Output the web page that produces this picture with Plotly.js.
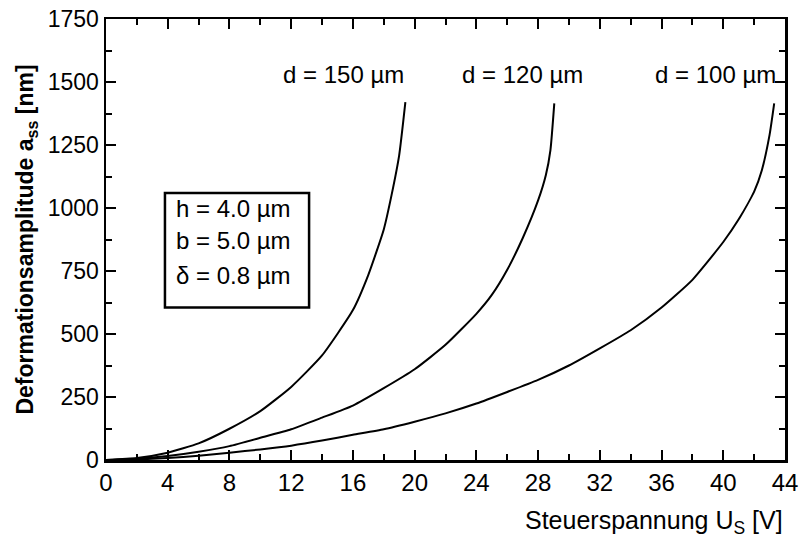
<!DOCTYPE html>
<html>
<head>
<meta charset="utf-8">
<script src="https://cdn.plot.ly/plotly-3.0.1.min.js"></script>
<style>html,body{margin:0;padding:0;background:#fff;}#chart{width:800px;height:539px;}</style>
</head>
<body>
<div id="chart"></div>
<script>
// Curve d = 150 µm
const x150 = [0, 2, 4, 6, 8, 10, 12, 14, 16, 17, 18, 18.5, 19, 19.4];
const y150 = [0, 8, 29, 66, 124, 194, 290, 415, 595, 735, 915, 1050, 1210, 1420];
// Curve d = 120 µm
const x120 = [0, 2, 4, 6, 8, 10, 12, 14, 16, 18, 20, 22, 24, 25, 26, 27, 28, 28.5, 28.8, 29.05];
const y120 = [0, 5, 16, 33, 55, 88, 122, 168, 216, 285, 360, 457, 580, 655, 755, 880, 1030, 1130, 1230, 1415];
// Curve d = 100 µm
const x100 = [0, 2, 4, 6, 8, 10, 12, 14, 16, 18, 20, 22, 24, 26, 28, 30, 32, 34, 36, 38, 40, 41, 42, 42.5, 43, 43.3];
const y100 = [0, 2, 8, 17, 29, 42, 57, 77, 100, 122, 152, 185, 224, 270, 318, 375, 443, 515, 605, 715, 865, 955, 1065, 1150, 1290, 1415];

const curveLabels = ["d = 150 µm", "d = 120 µm", "d = 100 µm"];
const labelX = [15.4, 27.0, 39.5];
const labelY = [1528, 1528, 1528];
const paramLines = ["h = 4.0 µm", "b = 5.0 µm", "δ = 0.8 µm"];

const xTickVals = [0, 4, 8, 12, 16, 20, 24, 28, 32, 36, 40, 44];
const yTickVals = [0, 250, 500, 750, 1000, 1250, 1500, 1750];

const FONT = "Liberation Sans, Arial, Helvetica, sans-serif";
const line = {color: "#000", width: 2, shape: "spline", smoothing: 0.5};

const traces = [
  {x: x150, y: y150, type: "scatter", mode: "lines", line: line, hoverinfo: "skip"},
  {x: x120, y: y120, type: "scatter", mode: "lines", line: line, hoverinfo: "skip"},
  {x: x100, y: y100, type: "scatter", mode: "lines", line: line, hoverinfo: "skip"}
];

const annotations = curveLabels.map((t, i) => ({
  x: labelX[i], y: labelY[i], xref: "x", yref: "y", text: t, showarrow: false,
  font: {family: FONT, size: 24, color: "#000"}, xanchor: "center", yanchor: "middle"
}));

const boxYs = [1000, 870, 732];
paramLines.forEach((t, i) => annotations.push({
  x: 4.4, y: boxYs[i], xref: "x", yref: "y", text: t, showarrow: false,
  font: {family: FONT, size: 24, color: "#000"}, xanchor: "left", yanchor: "middle"
}));

annotations.push({
  x: 1, y: 0, xref: "paper", yref: "paper", yshift: -62, xanchor: "right", yanchor: "middle",
  text: "Steuerspannung U<sub>S</sub> [V]", showarrow: false,
  font: {family: FONT, size: 25, color: "#000"}
});

const layout = {
  width: 800, height: 539,
  margin: {l: 106, r: 15, t: 19, b: 79},
  paper_bgcolor: "#fff", plot_bgcolor: "#fff",
  showlegend: false,
  font: {family: FONT, color: "#000"},
  xaxis: {
    range: [0, 44], tickvals: xTickVals, ticktext: xTickVals.map(String),
    ticks: "inside", ticklen: 10, tickwidth: 2, tickcolor: "#000",
    minor: {dtick: 2, tick0: 0, ticks: "inside", ticklen: 6, tickwidth: 2, tickcolor: "#000", showgrid: false},
    showline: true, linecolor: "#000", linewidth: 2.5, mirror: "allticks",
    showgrid: false, zeroline: false,
    tickfont: {family: FONT, size: 24, color: "#000"}
  },
  yaxis: {
    range: [0, 1750], tickvals: yTickVals, ticktext: yTickVals.map(String),
    ticks: "inside", ticklen: 10, tickwidth: 2, tickcolor: "#000",
    minor: {dtick: 125, tick0: 0, ticks: "inside", ticklen: 6, tickwidth: 2, tickcolor: "#000", showgrid: false},
    showline: true, linecolor: "#000", linewidth: 2.5, mirror: "allticks",
    showgrid: false, zeroline: false,
    tickfont: {family: FONT, size: 23, color: "#000"},
    title: {text: "<b>Deformationsamplitude a<sub>ss</sub> [nm]</b>", font: {family: FONT, size: 23, color: "#000"}, standoff: 8}
  },
  shapes: [{
    type: "rect", xref: "x", yref: "y", x0: 3.82, x1: 13.16, y0: 605, y1: 1060,
    line: {color: "#000", width: 2.5}, fillcolor: "rgba(0,0,0,0)"
  }],
  annotations: annotations
};

Plotly.newPlot("chart", traces, layout, {displayModeBar: false, staticPlot: true});
</script>
</body>
</html>
